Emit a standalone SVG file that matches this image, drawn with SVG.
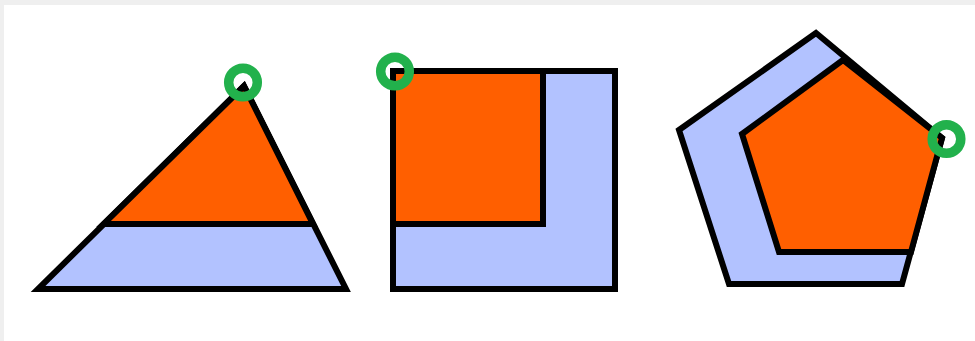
<svg xmlns="http://www.w3.org/2000/svg" width="975" height="341" viewBox="0 0 975 341">
<style>
.outer{fill:#b2c2ff;stroke:#000;stroke-width:6}
.inner{fill:#ff5f00;stroke:#000;stroke-width:6}
.pivot{fill:none;stroke:#22b14c;stroke-width:9.5}
</style>
<rect x="0" y="0" width="975" height="341" fill="#efefef"/>
<rect x="4" y="5" width="971" height="336" fill="#ffffff"/>
<g id="triangle">
<polygon class="outer" points="38,289 346,289 244,86"/>
<polygon class="inner" points="244,86 103.5,224 313,224"/>
<circle class="pivot" cx="243" cy="82.5" r="14.3"/>
</g>
<g id="square">
<rect class="outer" x="393" y="71" width="222" height="218"/>
<rect class="inner" x="393" y="71" width="150" height="153"/>
<circle class="pivot" cx="395" cy="71.5" r="14.3"/>
</g>
<g id="pentagon">
<polygon class="outer" points="816,33 679,130 729,284 902,284 942,138"/>
<polygon class="inner" points="843,60 742,134 779,252 911,252 942,138"/>
<circle class="pivot" cx="946.5" cy="139" r="14.3"/>
</g>
<g id="connectors"/>
</svg>
